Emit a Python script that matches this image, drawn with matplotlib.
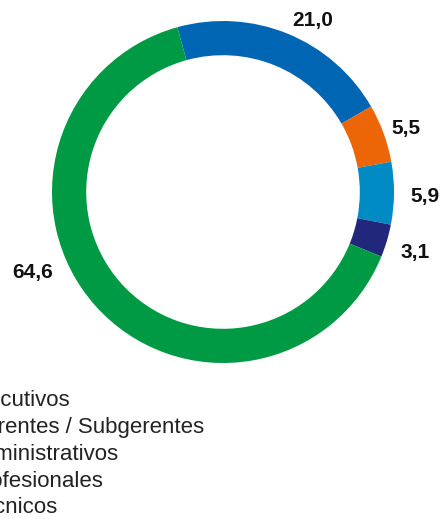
import numpy as np
import matplotlib

matplotlib.use("Agg")
import matplotlib.pyplot as plt
from matplotlib.patches import Patch

categories = [
    "Ejecutivos",
    "Gerentes / Subgerentes",
    "Administrativos",
    "Profesionales",
    "Técnicos",
]
values = [21.0, 5.5, 5.9, 3.1, 64.6]
value_labels = ["21,0", "5,5", "5,9", "3,1", "64,6"]
colors = ["#0066b3", "#ec6608", "#008bc4", "#21277b", "#009a44"]

plt.rcParams["font.family"] = ["Liberation Sans", "DejaVu Sans"]

W, H = 444, 519
fig = plt.figure(figsize=(W / 100, H / 100), dpi=100)

# donut centred at (223, 192) px, outer radius 171 px
cx, cy, r = 223, 192, 171
ax = fig.add_axes([(cx - r) / W, (H - cy - r) / H, 2 * r / W, 2 * r / H])
ax.axis("off")

start = 105.5
wedges, _ = ax.pie(
    values,
    colors=colors,
    startangle=start,
    counterclock=False,
    radius=1.0,
    wedgeprops=dict(width=0.2, linewidth=0),
    frame=False,
)
ax.set_xlim(-1, 1)
ax.set_ylim(-1, 1)
ax.set_aspect("equal")

# value labels just outside the ring
label_dist = [1.15, 1.14, 1.18, 1.17, 1.20]
label_shift = [-5, 0, 0, 0, -19.5]
for w, txt, d, s in zip(wedges, value_labels, label_dist, label_shift):
    ang = np.deg2rad((w.theta1 + w.theta2) / 2 + s)
    ax.text(d * np.cos(ang), d * np.sin(ang) - 0.018, txt,
            ha="center", va="center",
            fontsize=15, fontweight="bold", color="#111111")

handles = [Patch(facecolor=c) for c in colors]
fig.legend(
    handles,
    categories,
    loc="upper left",
    bbox_to_anchor=(-65 / W, 1 - 390 / H),
    bbox_transform=fig.transFigure,
    frameon=False,
    fontsize=16,
    handlelength=1.0,
    handleheight=0.8,
    handletextpad=0.5,
    labelspacing=0.25,
    borderpad=0,
    borderaxespad=0,
    labelcolor="#222222",
)

fig.savefig("out.png", dpi=100)
